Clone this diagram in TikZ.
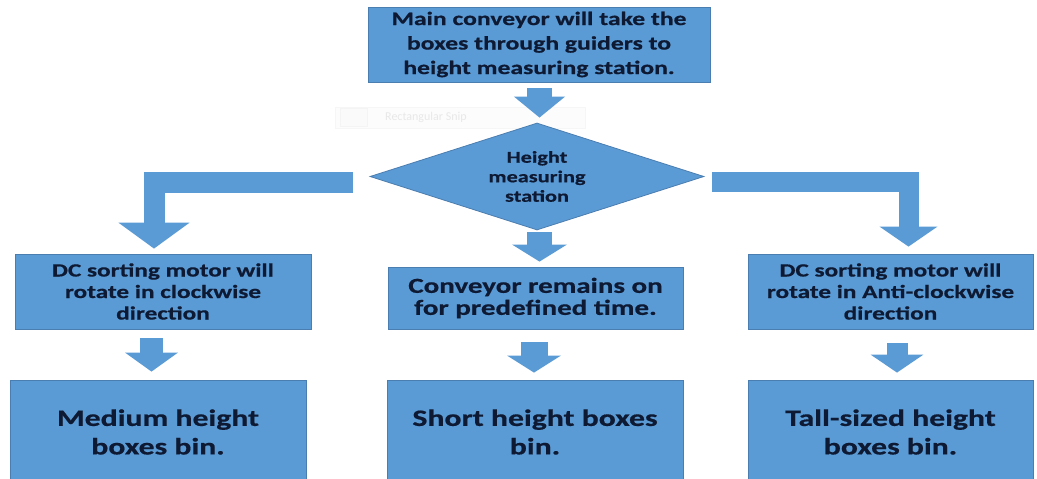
\documentclass[tikz,border=0pt]{standalone}
\usepackage{fontspec}
\newfontfamily\boxfont[FakeStretch=1.35, BoldFeatures={FakeBold=0.6}]{Carlito}
\usetikzlibrary{shapes.geometric,arrows.meta,calc}
\definecolor{boxblue}{HTML}{5B9BD5}
\definecolor{boxedge}{HTML}{4A7DB0}
\definecolor{boxtext}{HTML}{0E1A33}
\begin{document}
\begin{tikzpicture}[x=1pt,y=-1pt,
  box/.style={draw=boxedge, line width=0.8pt, fill=boxblue, text=boxtext, align=center, inner sep=0pt},
  blk/.style={draw=boxblue, line join=miter},
  ftop/.style={font=\boxfont\bfseries\fontsize{19}{24.5}\selectfont},
  fdia/.style={font=\boxfont\bfseries\fontsize{16.5}{19.5}\selectfont},
  fside/.style={font=\boxfont\bfseries\fontsize{18.7}{21.5}\selectfont},
  fmid/.style={font=\boxfont\bfseries\fontsize{21.5}{22}\selectfont},
  fbin/.style={font=\boxfont\bfseries\fontsize{23.5}{28.5}\selectfont}]
\fill[white] (0,0) rectangle (1037,479);
\clip (0,0) rectangle (1037,479);

% faint ghost of a screen-capture toolbar
\node[draw=gray!7, fill=gray!2, minimum width=250pt, minimum height=21pt, inner sep=0pt] (ghost) at (460,117.5) {};
\node[draw=gray!9, fill=gray!4, minimum width=27pt, minimum height=18pt, inner sep=0pt] (ghostbtn) at (354,117.5) {};
\node[text=gray!18, font=\fontspec{Carlito}\fontsize{12}{12}\selectfont, anchor=west, inner sep=0pt] (ghosttxt) at (385,117.5) {Rectangular Snip};

% nodes
\node[box, ftop, minimum width=342pt, minimum height=75pt] (top) at (539,44.5)
  {Main conveyor will take the\\boxes through guiders to\\height measuring station.};
\node[box, fdia, diamond, shape aspect=3.12, minimum width=334pt, minimum height=107pt] (dia) at (537,176.5)
  {Height\\measuring\\station};
\node[box, fside, minimum width=296pt, minimum height=75pt] (L1) at (163,291.5)
  {DC sorting motor will\\rotate in clockwise\\direction};
\node[box, fmid, minimum width=295pt, minimum height=62pt] (C1) at (535.5,298)
  {Conveyor remains on\\for predefined time.};
\node[box, fside, minimum width=285pt, minimum height=75pt] (R1) at (890.5,291.5)
  {DC sorting motor will\\rotate in Anti-clockwise\\direction};
\node[box, fbin, minimum width=296pt, minimum height=104pt] (L2) at (158,432)
  {Medium height\\boxes bin.};
\node[box, fbin, minimum width=296pt, minimum height=104pt] (C2) at (535,432)
  {Short height boxes\\bin.};
\node[box, fbin, minimum width=285pt, minimum height=104pt] (R2) at (890.5,432)
  {Tall-sized height\\boxes bin.};

% block arrows
\draw[blk, line width=25pt, -{Triangle[length=21pt,width=50pt]}]
  ($(top.south)+(0.5,6)$) -- ($(top.south |- dia.north)+(0.5,-5)$);
\draw[blk, line width=21pt, -{Triangle[length=26pt,width=70pt]}]
  ($(dia.west)+(-17,5.5)$) -| ($(L1.north)+(-9,-5)$);
\draw[blk, line width=20pt, -{Triangle[length=20pt,width=57pt]}]
  ($(dia.east)+(8,5.5)$) -| ($(R1.north)+(18,-7)$);
\draw[blk, line width=25pt, -{Triangle[length=17pt,width=54pt]}]
  ($(dia.south)+(2.5,2)$) -- ($(C1.north)+(4,-5)$);
\draw[blk, line width=23pt, -{Triangle[length=19pt,width=52pt]}]
  ($(L1.south)+(-11.5,9)$) -- ($(L2.north)+(-6.5,-8)$);
\draw[blk, line width=27pt, -{Triangle[length=17pt,width=53pt]}]
  ($(C1.south)+(-1.5,13)$) -- ($(C2.north)+(-1,-7)$);
\draw[blk, line width=21pt, -{Triangle[length=18pt,width=52pt]}]
  ($(R1.south)+(6.5,14)$) -- ($(R2.north)+(6.5,-7)$);
\end{tikzpicture}
\end{document}
